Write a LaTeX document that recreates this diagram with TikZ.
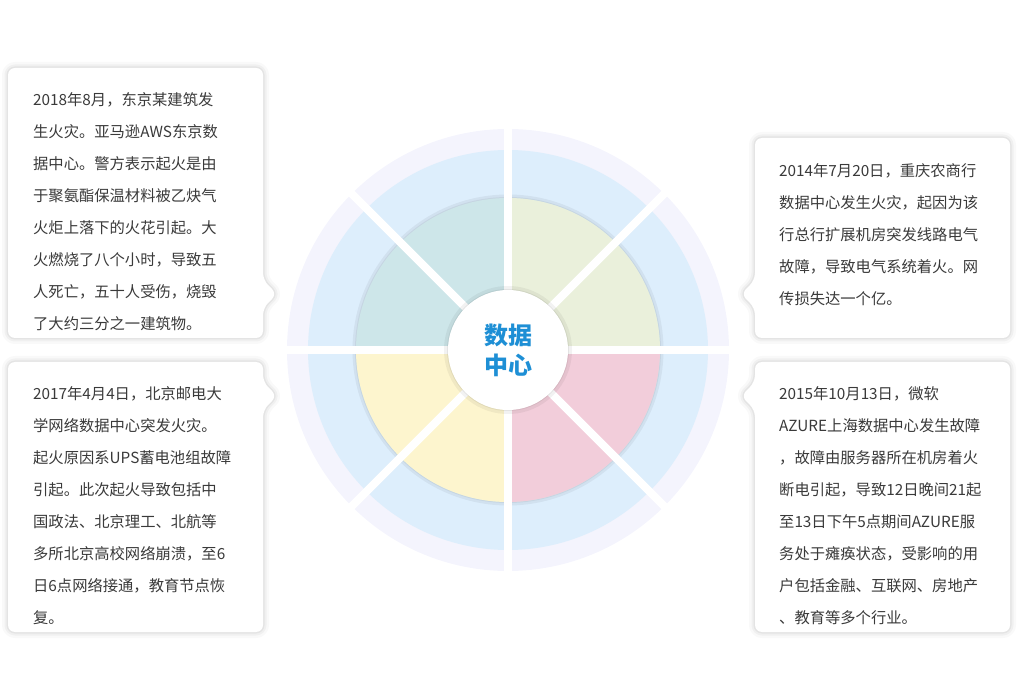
\documentclass[tikz,border=0pt]{standalone}
\usepackage{fontspec}
\newfontfamily\cjk{Noto Sans CJK SC}
\usetikzlibrary{shadows}
\definecolor{faint}{HTML}{F4F4FD}
\definecolor{ringblue}{HTML}{DDEEFC}
\definecolor{ctl}{HTML}{CDE6E9}
\definecolor{ctr}{HTML}{EAF0DB}
\definecolor{cbr}{HTML}{F2CDDA}
\definecolor{cbl}{HTML}{FDF5CE}
\definecolor{txt}{HTML}{3A3A3A}
\definecolor{cblue}{HTML}{1E8FD5}
\tikzset{
 body/.style={anchor=north west,inner sep=0pt,align=left,text=txt,font=\cjk\fontsize{15.3}{32}\selectfont},
 gap/.style={white,line width=8pt},
 sh/.style={draw=black,rounded corners=7pt,line join=round,fill=none}
}
\newcommand\cardA{(8,68) -- (263,68) -- (263,280) -- (277,294) -- (263,308) -- (263,338) -- (8,338) -- cycle}
\newcommand\cardB{(8,362) -- (263,362) -- (263,382) -- (277,396) -- (263,410) -- (263,632) -- (8,632) -- cycle}
\newcommand\cardC{(755,138) -- (1010,138) -- (1010,338) -- (755,338) -- (755,308) -- (741,294) -- (755,280) -- cycle}
\newcommand\cardD{(755,362) -- (1010,362) -- (1010,632) -- (755,632) -- (755,410) -- (741,396) -- (755,382) -- cycle}
\newcommand\mycard[1]{%
 \draw[sh,opacity=0.025,line width=12pt] #1;
 \draw[sh,opacity=0.035,line width=7pt] #1;
 \draw[sh,opacity=0.05,line width=3pt] #1;
 \fill[white,rounded corners=7pt] #1;}
\begin{document}
\begin{tikzpicture}[x=1pt,y=-1pt]
\useasboundingbox (0,0) rectangle (1018,700);
\coordinate (c) at (508,350);
% rings
\fill[faint] (c) circle (221pt);
\fill[ringblue] (c) circle (200pt);
\draw[black,opacity=0.05,line width=5pt] (c) circle (153pt);
\draw[black,opacity=0.05,line width=2pt] (c) circle (152pt);
\fill[ctl] (c) circle (152pt);
\fill[ctr] (c) -- ++(0,-152) arc[start angle=90,end angle=0,radius=152pt] -- cycle;
\fill[cbr] (c) -- ++(152,0) arc[start angle=0,end angle=-90,radius=152pt] -- cycle;
\fill[cbl] (c) -- ++(0,152) arc[start angle=-90,end angle=-180,radius=152pt] -- cycle;
% gaps
\draw[gap] (c) ++(-224,0) -- ++(448,0);
\draw[gap] (c) ++(0,-224) -- ++(0,448);
\foreach \a in {45,135,225,315}{\draw[gap] (c) -- ++(\a:224pt);}
% center
\draw[black,opacity=0.05,line width=6pt] (c) circle (61pt);
\draw[black,opacity=0.06,line width=2pt] (c) circle (60pt);
\node[circle,minimum size=120pt,fill=white,inner sep=0pt,align=center,text=cblue,font=\cjk\bfseries\fontsize{24}{30}\selectfont] (center) at (c) {数据\\中心};
% cards
\mycard{\cardA}
\mycard{\cardB}
\mycard{\cardC}
\mycard{\cardD}
\node[body] (lt) at (33,92) {2018年8月，东京某建筑发\\生火灾。亚马逊AWS东京数\\据中心。警方表示起火是由\\于聚氨酯保温材料被乙炔气\\火炬上落下的火花引起。大\\火燃烧了八个小时，导致五\\人死亡，五十人受伤，烧毁\\了大约三分之一建筑物。};
\node[body] (rt) at (779,163) {2014年7月20日，重庆农商行\\数据中心发生火灾，起因为该\\行总行扩展机房突发线路电气\\故障，导致电气系统着火。网\\传损失达一个亿。};
\node[body] (lb) at (33,386) {2017年4月4日，北京邮电大\\学网络数据中心突发火灾。\\起火原因系UPS蓄电池组故障\\引起。此次起火导致包括中\\国政法、北京理工、北航等\\多所北京高校网络崩溃，至6\\日6点网络接通，教育节点恢\\复。};
\node[body] (rb) at (779,386) {2015年10月13日，微软\\AZURE上海数据中心发生故障\\，故障由服务器所在机房着火\\断电引起，导致12日晚间21起\\至13日下午5点期间AZURE服\\务处于瘫痪状态，受影响的用\\户包括金融、互联网、房地产\\、教育等多个行业。};
\end{tikzpicture}
\end{document}
